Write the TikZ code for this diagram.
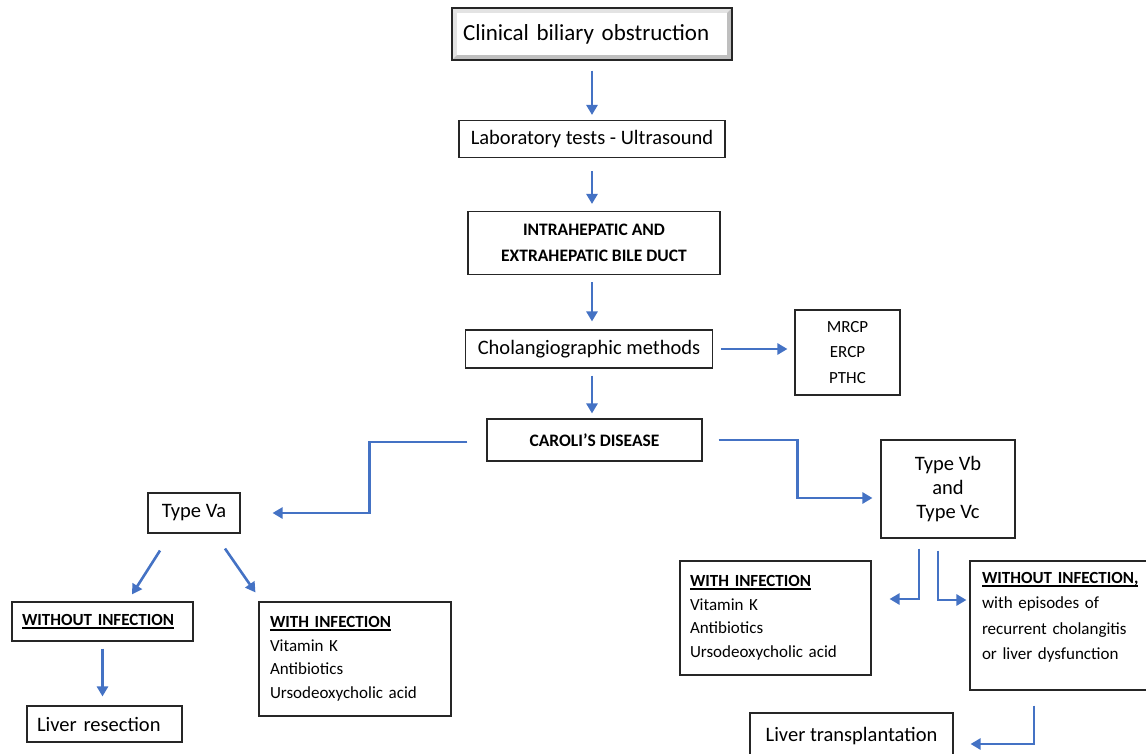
\documentclass[tikz,border=0pt]{standalone}
\usepackage{fontspec}
\setmainfont{Carlito}
\usetikzlibrary{arrows.meta, positioning}
\definecolor{flowblue}{HTML}{4472C4}
\definecolor{edge}{HTML}{262626}
\newcommand{\head}[1]{\setbox0\hbox{\textbf{#1}}\leavevmode\rlap{\rule[-3pt]{\wd0}{1.6pt}}\box0}

\begin{document}
\begin{tikzpicture}[x=1pt, y=-1pt,
    box/.style={draw=edge, line width=1.1pt, inner sep=0pt, font=\fontsize{20.5}{24}\selectfont},
    small/.style={font=\fontsize{17}{23.5}\selectfont},
    bold/.style={font=\fontsize{17.5}{26}\selectfont\bfseries},
    headfont/.style={font=\fontsize{17}{20}\selectfont},
    list/.style={box, small, align=left, inner xsep=11pt},
    titlebox/.style={draw=edge, line width=1.2pt, fill=gray!22, inner sep=0pt,
        font=\fontsize{23}{26}\selectfont,
        path picture={
            \coordinate (pa) at (path picture bounding box.north west);
            \coordinate (pb) at (path picture bounding box.south east);
            \fill[gray!50] (pa |- pb) -- (pb) -- (pb |- pa) -- ++(-5pt,-5pt)
                -- ([shift={(-5pt,5pt)}]pb) -- ([shift={(5pt,5pt)}]pa |- pb) -- cycle;
            \fill[white] ([shift={(5pt,-5pt)}]pa) rectangle ([shift={(-5pt,5pt)}]pb);
        }},
    flow/.style={draw=flowblue, line width=2.6pt, -{Triangle[length=10pt,width=11pt]}}]
    \useasboundingbox (0,0) rectangle (1146,753);

    % Diagnostic chain
    \node[titlebox, align=left, inner xsep=11pt, text width=258pt, minimum height=52pt] (clinical) at (592,34) {Clinical biliary obstruction};
    \node[box, minimum width=266pt, minimum height=37pt] (lab) at (592,139) {Laboratory tests - Ultrasound};
    \node[box, bold, align=center, minimum width=252pt, minimum height=63pt] (ducts) at (594,243) {INTRAHEPATIC AND\\EXTRAHEPATIC BILE DUCT};
    \node[box, minimum width=247pt, minimum height=38pt] (cholangio) at (589,349) {Cholangiographic methods};
    \node[box, font=\fontsize{17}{25.5}\selectfont, align=center, minimum width=105pt, minimum height=85pt] (imaging) at (847.5,352.5) {MRCP\\ERCP\\PTHC};
    \node[box, bold, minimum width=215pt, minimum height=42pt] (caroli) at (594.5,440) {CAROLI’S DISEASE};

    \draw[flow, shorten <=10pt, shorten >=5pt] (clinical.south) -- (clinical.south |- lab.north);
    \draw[flow, shorten <=13pt, shorten >=7pt] (lab.south) -- (lab.south |- ducts.north);
    \draw[flow, shorten <=7pt, shorten >=8pt] (lab.south |- ducts.south) -- (lab.south |- cholangio.north);
    \draw[flow, shorten <=7pt, shorten >=5pt] (lab.south |- cholangio.south) -- (lab.south |- caroli.north);
    \draw[flow, shorten <=8pt, shorten >=7pt] (cholangio.east) -- (cholangio.east -| imaging.west);

    % Type Va
    \node[box, minimum width=92pt, minimum height=40pt] (typeVa) at (194,513) {Type Va};
    \node[box, headfont, align=left, inner xsep=10pt, text width=161pt, minimum height=39pt] (noinfL) at (102.5,621.5) {\head{WITHOUT INFECTION}};
    \node[list, text width=170pt, minimum height=114pt] (infL) at (355,659)
        {\head{WITH INFECTION}\\Vitamin K\\Antibiotics\\Ursodeoxycholic acid};
    \node[box, align=left, inner xsep=10pt, text width=135pt, minimum height=36pt] (resection) at (104.5,724) {Liver resection};

    \draw[flow, shorten >=32pt] ([xshift=-19pt, yshift=-2pt]caroli.west) -- ++(-98,0) |- (typeVa.east);
    \draw[flow] ([shift={(-34pt,-17pt)}]typeVa.south) -- ([shift={(29.5pt,7pt)}]noinfL.north);
    \draw[flow] ([shift={(31pt,-15pt)}]typeVa.south) -- ([shift={(-3pt,9pt)}]infL.north west);
    \draw[flow, shorten <=7pt, shorten >=9pt] (noinfL.south) -- (noinfL.south |- resection.north);

    % Type Vb and Vc
    \node[box, align=center, font=\fontsize{20.5}{24}\selectfont, minimum width=134pt, minimum height=98pt] (typeVbc) at (948,489) {Type Vb\\and\\Type Vc};
    \node[list, inner xsep=10pt, text width=171pt, minimum height=114pt] (infR) at (775.5,618)
        {\head{WITH INFECTION}\\Vitamin K\\Antibiotics\\Ursodeoxycholic acid};
    \node[list, font=\fontsize{17}{25.3}\selectfont, inner xsep=12pt, text width=166pt, minimum height=129pt] (noinfR) at (1065,625.5)
        {\head{WITHOUT INFECTION,}\\with episodes of\\recurrent cholangitis\\or liver dysfunction\rule[-19pt]{0pt}{0pt}};
    \node[box, minimum width=203pt, minimum height=52pt] (transplant) at (851.5,739) {Liver transplantation\rule[-9pt]{0pt}{0pt}};

    \draw[flow, shorten >=8pt] ([xshift=16pt]caroli.east) -- ++(79,0) |- ([yshift=-9pt]typeVbc.west);
    \draw[flow] ([shift={(-29pt,-10pt)}]typeVbc.south) |- ([shift={(18pt,19pt)}]infR.east);
    \draw[flow] ([shift={(-10pt,-12pt)}]typeVbc.south) |- ([shift={(-3pt,25.5pt)}]noinfR.west);
    \draw[flow] ([shift={(-31pt,-15pt)}]noinfR.south) |- ([shift={(17pt,-5pt)}]transplant.east);
\end{tikzpicture}
\end{document}
